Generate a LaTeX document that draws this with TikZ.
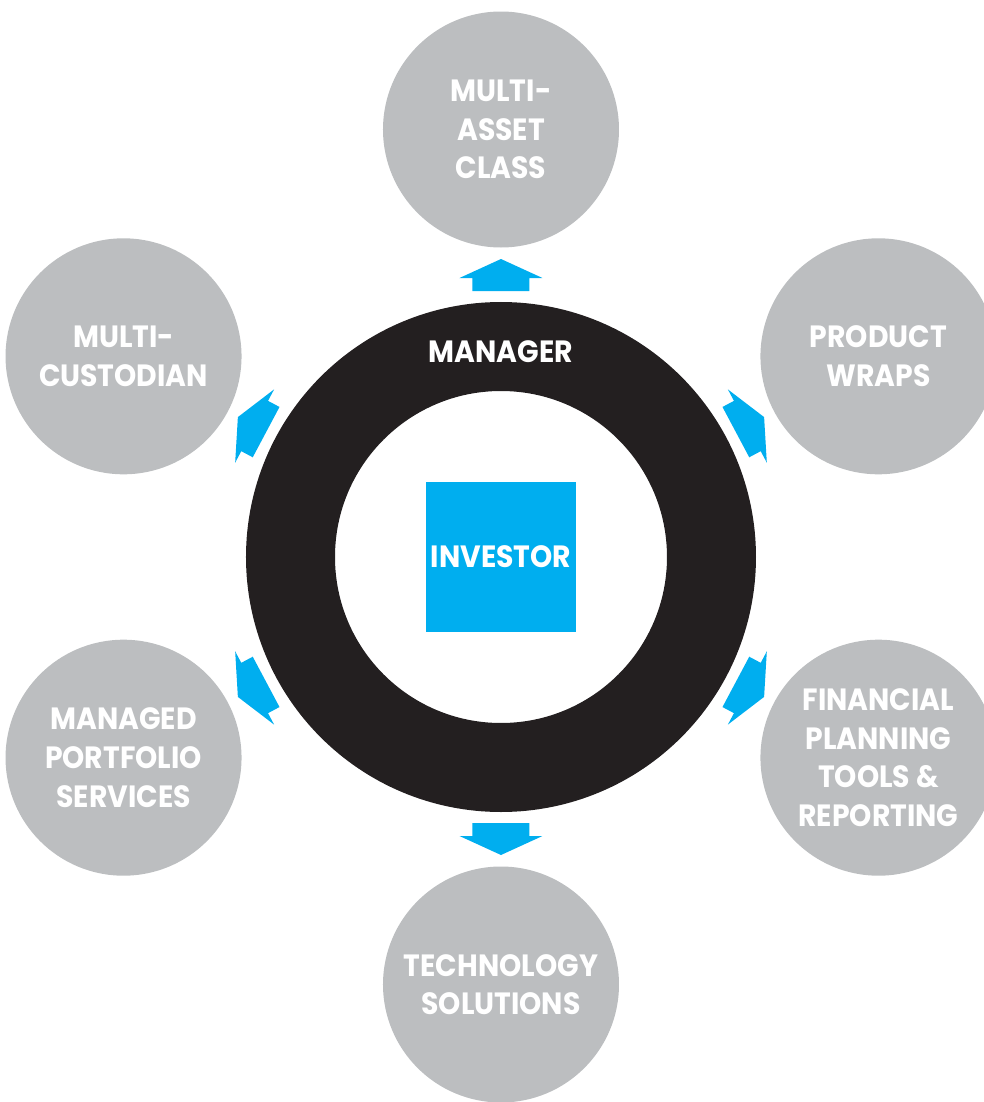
\documentclass[tikz,border=0pt]{standalone}
\usepackage{fontspec}
\setmainfont{Poppins}[FakeStretch=0.92]
\definecolor{ringblack}{HTML}{231F20}
\definecolor{satgray}{HTML}{BCBEC0}
\definecolor{invblue}{HTML}{00AEEF}
\newcommand{\labelfont}{\bfseries\fontsize{17.5}{22}\selectfont}

\begin{document}
\begin{tikzpicture}[
    sat/.style={circle,fill=satgray,minimum size=4.72cm,inner sep=0pt,
      text=white,align=center,font=\labelfont},
    ring/.style={circle,draw=ringblack,line width=1.78cm,minimum size=8.42cm,inner sep=0pt},
    invbox/.style={rectangle,fill=invblue,minimum size=3cm,inner sep=0pt,
      text=white,font=\labelfont}
  ]
      \clip (-10.02,-10.9) rectangle (9.66,11.14);
      \node[ring] (manager) at (0,0) {};
      \node[text=white,font=\labelfont] (managerlabel) at (0,4.1) {MANAGER};
      \node[invbox] (investor) at (0,0) {INVESTOR};
      % satellites and the arrows pointing at them
      \foreach \ang/\name/\txt in {90/assetclass/{MULTI-\\ASSET\\CLASS},
          28/wraps/{PRODUCT\\WRAPS},
          332/planning/{FINANCIAL\\PLANNING\\TOOLS \&\\REPORTING},
          270/technology/{TECHNOLOGY\\SOLUTIONS},
          208/portfolio/{MANAGED\\PORTFOLIO\\SERVICES},
          152/custodian/{MULTI-\\CUSTODIAN}} {
        \node[sat] (\name) at (\ang:8.55) {\txt};
        \fill[invblue,rotate=\ang] (5.32,-0.57) -- (5.58,-0.57) -- (5.58,-0.83)
          -- (5.96,0) -- (5.58,0.83) -- (5.58,0.57) -- (5.32,0.57) -- cycle;
      }
    \end{tikzpicture}
\end{document}
